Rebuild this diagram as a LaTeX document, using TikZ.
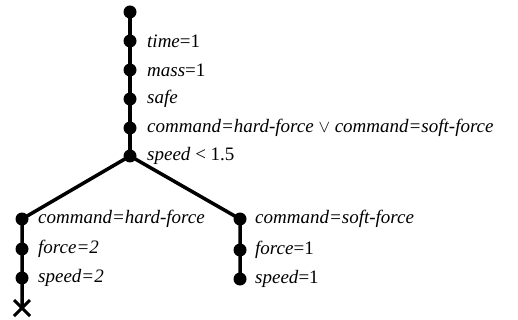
\documentclass[tikz,border=0pt]{standalone}
\usepackage{fontspec}
\setmainfont{Liberation Serif}
\usetikzlibrary{calc}
\begin{document}
\begin{tikzpicture}[x=1pt,y=-1pt,
  dot/.style={circle,fill=black,inner sep=0pt,minimum size=13pt},
  lbl/.style={anchor=west,inner sep=0pt,font=\fontsize{19}{21}\selectfont},
  edge/.style={line width=3.5pt}]
\useasboundingbox (0,0) rectangle (518,320);
\node[dot] (n0) at (130,12) {};
\node[dot] (n1) at (130,41) {};
\node[dot] (n2) at (130,70) {};
\node[dot] (n3) at (130,99) {};
\node[dot] (n4) at (130,128) {};
\node[dot] (n5) at (130,156) {};
\node[dot] (l1) at (22,219) {};
\node[dot] (l2) at (22,249) {};
\node[dot] (l3) at (22,278) {};
\coordinate (lx) at (22,308);
\node[dot] (r1) at (240,219) {};
\node[dot] (r2) at (240,250) {};
\node[dot] (r3) at (240,279) {};
\draw[edge] (n0.center) -- (n1.center) -- (n2.center) -- (n3.center) -- (n4.center) -- (n5.center);
\draw[edge] (n5.center) -- (l1.center) -- (l2.center) -- (l3.center) -- (lx);
\draw[edge] (n5.center) -- (r1.center) -- (r2.center) -- (r3.center);
\draw[line width=3pt] ($(lx)+(-8,-8)$) -- ($(lx)+(8,8)$) ($(lx)+(-8,8)$) -- ($(lx)+(8,-8)$);
\node[lbl] at (147,41) {\textit{time}=1};
\node[lbl] at (147,70) {\textit{mass}=1};
\node[lbl] at (147,99) {\textit{safe}};
\node[lbl] at (147,128) {\textit{command=hard-force} $\vee$ \textit{command=soft-force}};
\node[lbl] at (147,156) {\textit{speed} < 1.5};
\node[lbl] at (38,219) {\textit{command=hard-force}};
\node[lbl] at (38,249) {\textit{force=2}};
\node[lbl] at (38,278) {\textit{speed=2}};
\node[lbl] at (255,219) {\textit{command=soft-force}};
\node[lbl] at (255,250) {\textit{force}=1};
\node[lbl] at (255,279) {\textit{speed}=1};
\end{tikzpicture}
\end{document}
